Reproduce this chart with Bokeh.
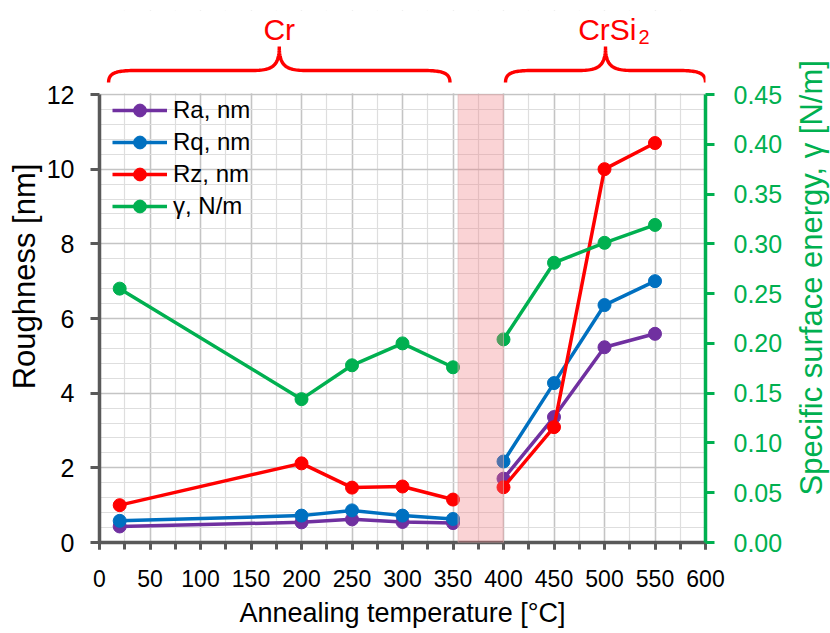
import math
import numpy as np
from bokeh.plotting import figure
from bokeh.models import (Range1d, LinearAxis, SingleIntervalTicker, PrintfTickFormatter,
                          BoxAnnotation, Legend, LegendItem)
from bokeh.layouts import row
from bokeh.embed import file_html
from bokeh.resources import INLINE
from bokeh.core.properties import value

# ---------------- data ----------------
temp_cr = [20, 200, 250, 300, 350]
temp_si = [400, 450, 500, 550]

ra_cr = [0.43, 0.54, 0.62, 0.55, 0.52]
ra_si = [1.71, 3.36, 5.23, 5.59]
rq_cr = [0.58, 0.72, 0.86, 0.72, 0.63]
rq_si = [2.17, 4.27, 6.36, 7.00]
rz_cr = [1.00, 2.12, 1.47, 1.50, 1.15]
rz_si = [1.48, 3.09, 10.00, 10.70]
gamma_cr = [0.255, 0.144, 0.178, 0.200, 0.176]
gamma_si = [0.204, 0.281, 0.301, 0.319]

series_labels = ["Ra, nm", "Rq, nm", "Rz, nm", "\u03b3, N/m"]
series_colors = ["#7030A0", "#0070C0", "#FF0000", "#00B050"]

phase_names = ["Cr", "CrSi"]
phase_start = [9, 402]
phase_end = [347, 600]
band_start, band_end = 355, 400

x_title = "Annealing temperature [\u00b0C]"
y_title = "Roughness [nm]"
y2_title = "Specific surface energy, \u03b3 [N/m]"

FONT = "Liberation Sans"
GREEN = "#00B050"
AXIS_GREY = "#595959"

Y_MAX = 12.0
G_MAX = 0.45
FRAME_H = 448.0
PX_PER_Y = FRAME_H / Y_MAX
EXTRA_PX = 84.0                   # room above the y=12 line for the braces
TOP_BORDER = 10
Y_TOP = Y_MAX + EXTRA_PX / PX_PER_Y
G_TOP = G_MAX * Y_TOP / Y_MAX
H = 633

# ---------------- main figure ----------------
p = figure(width=785, height=H, x_range=Range1d(0, 600), y_range=Range1d(0, Y_TOP),
           output_backend="svg", toolbar_location=None,
           min_border_left=99, min_border_right=80, min_border_top=TOP_BORDER,
           min_border_bottom=91)
p.extra_y_ranges = {"gamma": Range1d(0, G_TOP)}
p.outline_line_color = None
p.background_fill_color = "white"

xa = p.xaxis[0]
xa.ticker = SingleIntervalTicker(interval=50, num_minor_ticks=2)
xa.axis_label = x_title
xa.axis_label_text_font = FONT
xa.axis_label_text_font_size = "27px"
xa.axis_label_text_font_style = "normal"
xa.axis_label_text_color = "black"
xa.axis_label_standoff = 8
xa.major_label_text_font = FONT
xa.major_label_text_font_size = "23px"
xa.major_label_text_color = "black"
xa.major_label_standoff = 20
xa.axis_line_color = AXIS_GREY
xa.axis_line_width = 3.5
xa.major_tick_line_color = AXIS_GREY
xa.minor_tick_line_color = AXIS_GREY
xa.major_tick_line_width = 3
xa.minor_tick_line_width = 3
xa.major_tick_in = 0
xa.major_tick_out = 7
xa.minor_tick_in = 0
xa.minor_tick_out = 7

ya = p.yaxis[0]
ya.ticker = SingleIntervalTicker(interval=2, num_minor_ticks=5)
ya.bounds = (0, Y_MAX)
ya.axis_label = y_title
ya.axis_label_text_font = FONT
ya.axis_label_text_font_size = "31px"
ya.axis_label_text_font_style = "normal"
ya.axis_label_text_color = "black"
ya.axis_label_standoff = 2
ya.major_label_text_font = FONT
ya.major_label_text_font_size = "25px"
ya.major_label_text_color = "black"
ya.major_label_standoff = 16
ya.axis_line_color = AXIS_GREY
ya.axis_line_width = 3.5
ya.major_tick_line_color = AXIS_GREY
ya.major_tick_line_width = 3
ya.major_tick_in = 0
ya.major_tick_out = 9
ya.minor_tick_line_color = None

p.xgrid[0].ticker = xa.ticker
p.ygrid[0].ticker = ya.ticker
for g in (p.xgrid[0], p.ygrid[0]):
    g.grid_line_color = "#c4c4c4"
    g.grid_line_width = 1.5
    g.minor_grid_line_color = "#dedede"
    g.minor_grid_line_width = 1.2

# white cover hiding the grid above the y=12 line (brace area)
cover = BoxAnnotation(bottom=Y_MAX + 1.2 / PX_PER_Y, fill_color="white", fill_alpha=1.0,
                      line_color=None, level="underlay")
p.add_layout(cover)

g_axis = LinearAxis(y_range_name="gamma",
                    ticker=SingleIntervalTicker(interval=0.05, num_minor_ticks=0),
                    formatter=PrintfTickFormatter(format="%.2f"))
g_axis.bounds = (0, G_MAX)
g_axis.major_label_text_font = FONT
g_axis.major_label_text_font_size = "25px"
g_axis.major_label_text_color = GREEN
g_axis.major_label_standoff = 19
g_axis.axis_line_color = GREEN
g_axis.axis_line_width = 3.5
g_axis.major_tick_line_color = GREEN
g_axis.major_tick_line_width = 3
g_axis.major_tick_in = 0
g_axis.major_tick_out = 9
g_axis.minor_tick_line_color = None
p.add_layout(g_axis, "right")

band = BoxAnnotation(left=band_start, right=band_end, bottom=0, top=Y_MAX,
                     fill_color="#F0787F", fill_alpha=0.33,
                     line_color="#d8b0b0", line_alpha=0.6, line_width=1)
p.add_layout(band)

series = [
    (ra_cr, ra_si, "default"),
    (rq_cr, rq_si, "default"),
    (rz_cr, rz_si, "default"),
    (gamma_cr, gamma_si, "gamma"),
]

items = []
for (vals_cr, vals_si, rng), lab, col in zip(series, series_labels, series_colors):
    rends = []
    for xs, ys in ((temp_cr, vals_cr), (temp_si, vals_si)):
        l = p.line(xs, ys, line_color=col, line_width=3.5, y_range_name=rng)
        s = p.scatter(xs, ys, size=13, fill_color=col, line_color=col, y_range_name=rng)
        rends.append((l, s))
    items.append(LegendItem(label=lab, renderers=[rends[0][0], rends[0][1]]))

ROW_H = 32
legend_h = len(items) * ROW_H
legend = Legend(items=items, location=(13, FRAME_H - legend_h),
                label_text_font=FONT, label_text_font_size="24px", label_text_color="black",
                glyph_width=55, glyph_height=ROW_H, label_height=ROW_H, spacing=0,
                padding=0, margin=0, label_standoff=6,
                background_fill_alpha=0, border_line_color=None)
p.add_layout(legend)

# ---------------- braces above the plot ----------------
k = 600.0 / 606.0  # x data units per pixel


def ypx(px_above):
    """y value for a point px_above pixels above the y=12 line"""
    return Y_MAX + px_above / PX_PER_Y


def bez(p0, p1, p2, p3, n=30):
    t = np.linspace(0, 1, n)[:, None]
    pts = ((1 - t) ** 3) * np.array(p0) + 3 * ((1 - t) ** 2) * t * np.array(p1) \
        + 3 * (1 - t) * t ** 2 * np.array(p2) + t ** 3 * np.array(p3)
    return pts[:, 0], pts[:, 1]


def brace(xs, xe):
    xm = (xs + xe) / 2.0
    ye, yh, yt = ypx(12), ypx(24), ypx(48)
    yh2, yh3 = ypx(22), ypx(28)
    r = 28 * k
    parts = [
        bez((xs, ye), (xs, yh2), (xs + 8 * k, yh), (xs + r, yh)),
        bez((xm - r, yh), (xm - 7 * k, yh), (xm, yh3), (xm, yt)),
        bez((xm, yt), (xm, yh3), (xm + 7 * k, yh), (xm + r, yh)),
        bez((xe - r, yh), (xe - 8 * k, yh), (xe, yh2), (xe, ye)),
    ]
    X = np.concatenate([pp[0] for pp in parts])
    Y = np.concatenate([pp[1] for pp in parts])
    return X, Y, xm


mids = []
for s_, e_ in zip(phase_start, phase_end):
    X, Y, xm = brace(s_, e_)
    mids.append(xm)
    p.line(X, Y, line_color="#FF0000", line_width=3.4)

p.text(x=[mids[0]], y=[ypx(65)], text=[phase_names[0]], text_align="center",
       text_baseline="alphabetic", text_font=value(FONT), text_font_size="30px",
       text_color="#FF0000")
p.text(x=[mids[1] + 31 * k], y=[ypx(65)], text=[phase_names[1]], text_align="right",
       text_baseline="alphabetic", text_font=value(FONT), text_font_size="30px",
       text_color="#FF0000")
p.text(x=[mids[1] + 33 * k], y=[ypx(58)], text=["2"], text_align="left",
       text_baseline="alphabetic", text_font=value(FONT), text_font_size="20px",
       text_color="#FF0000")

# ---------------- side strip with the secondary-axis title ----------------
SIDE_W = 45
side = figure(width=SIDE_W, height=H, x_range=Range1d(0, SIDE_W), y_range=Range1d(0, H),
              output_backend="svg", toolbar_location=None, title=None,
              min_border_left=0, min_border_right=0, min_border_top=0, min_border_bottom=0,
              x_axis_location=None, y_axis_location=None)
side.outline_line_color = None
side.grid.visible = False
side.background_fill_color = "white"
frame_center_from_bottom = H - (TOP_BORDER + EXTRA_PX + FRAME_H / 2)
side.text(x=[26], y=[frame_center_from_bottom], text=[y2_title], angle=math.pi / 2,
          text_align="center", text_baseline="middle", text_font=value(FONT),
          text_font_size="31px", text_color=GREEN)

layout = row(p, side, spacing=0)
open("out.html", "w").write(file_html(layout, INLINE))
